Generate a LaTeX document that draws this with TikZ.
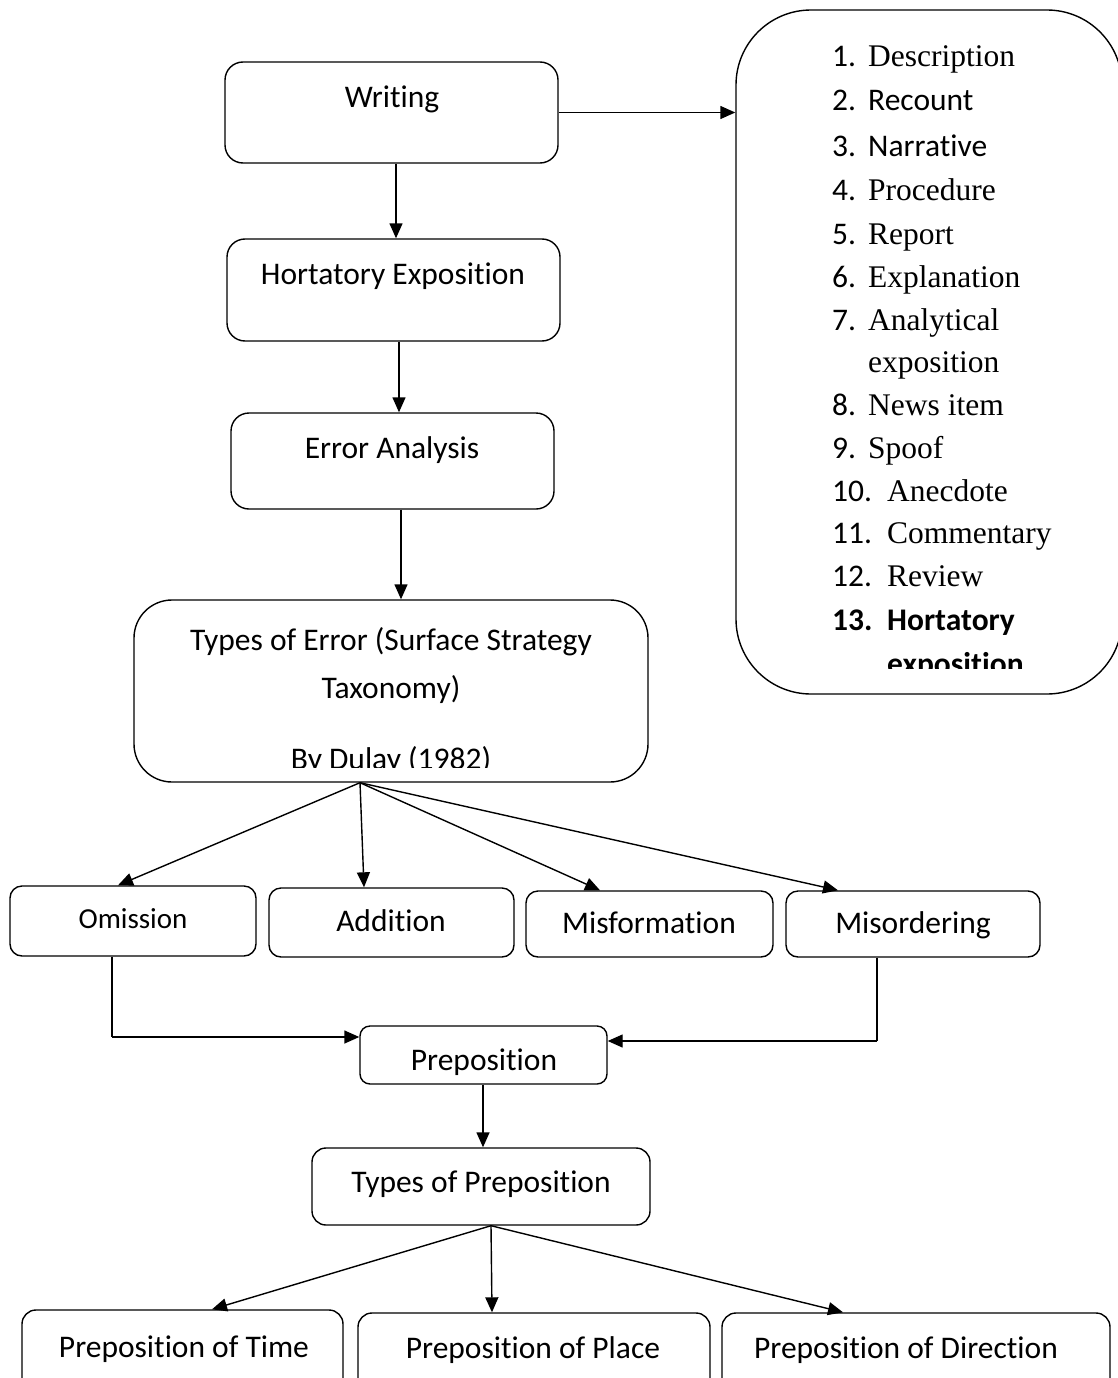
\documentclass[tikz,border=0pt]{standalone}
\usepackage{fontspec}
\setmainfont{Carlito}[Ligatures={NoCommon}]
\newfontfamily\tnr{Liberation Serif}
\usetikzlibrary{arrows.meta}
\begin{document}
\begin{tikzpicture}[x=1pt,y=-1pt,
  box/.style={draw, line width=1.4pt, rounded corners=14pt, inner sep=0pt},
  txt/.style={anchor=base, inner sep=0pt, font=\fontsize{31.5}{37}\selectfont},
  itm/.style={anchor=base west, inner sep=0pt, font=\fontsize{31.5}{37}\selectfont},
  arr/.style={line width=1.4pt, -{Triangle[length=15pt,width=13pt]}},
  ln/.style={line width=1.4pt}]
\useasboundingbox (0,0) rectangle (1117,1378);
% boxes
\node[box, rounded corners=18pt, minimum width=333pt, minimum height=101pt] (writing) at (391.5,112.5) {};
\node[box, rounded corners=18pt, minimum width=333pt, minimum height=102pt] (hort) at (393.5,290) {};
\node[box, rounded corners=18pt, minimum width=323pt, minimum height=96pt] (erran) at (392.5,461) {};
\node[box, rounded corners=38pt, minimum width=514pt, minimum height=182pt] (types) at (391,691) {};
\node[box, rounded corners=75pt, minimum width=386pt, minimum height=684pt] (list) at (929,352) {};
\node[box, rounded corners=12pt, minimum width=246pt, minimum height=70pt] (omis) at (133,921) {};
\node[box, rounded corners=12pt, minimum width=245pt, minimum height=69pt] (addi) at (391.5,922.5) {};
\node[box, rounded corners=12pt, minimum width=247pt, minimum height=66pt] (misf) at (649.5,924) {};
\node[box, rounded corners=12pt, minimum width=254pt, minimum height=66pt] (miso) at (913,924) {};
\node[box, rounded corners=10pt, minimum width=247pt, minimum height=58pt] (prep) at (483.5,1055) {};
\node[box, rounded corners=14pt, minimum width=338pt, minimum height=77pt] (tprep) at (481,1186.5) {};
\node[box, rounded corners=14pt, minimum width=321pt, minimum height=90pt] (ptime) at (182.5,1355) {};
\node[box, rounded corners=14pt, minimum width=352pt, minimum height=88pt] (pplace) at (534,1357) {};
\node[box, rounded corners=14pt, minimum width=388pt, minimum height=88pt] (pdir) at (916,1357) {};
% texts
\node[txt] (twriting) at (392,108) {Writing};
\node[txt] (thort) at (393,284) {Hortatory Exposition};
\node[txt] (terran) at (392,458) {Error Analysis};
\node[txt] (ttypes1) at (391,650) {Types of Error (Surface Strategy};
\node[txt] (ttypes2) at (391,698) {Taxonomy)};
\begin{scope}
\clip (134,600) rectangle (648,767);
\node[txt] (ttypes3) at (391,769) {By Dulay (1982)};
\end{scope}
\node[txt, font=\fontsize{29}{35}\selectfont] (tomis) at (133,928) {Omission};
\node[txt] (taddi) at (391,931) {Addition};
\node[txt] (tmisf) at (649,933) {Misformation};
\node[txt] (tmiso) at (913,933) {Misordering};
\node[txt] (tprept) at (484,1070) {Preposition};
\node[txt] (ttprep) at (481,1192) {Types of Preposition};
\node[txt] (tptime) at (184,1357) {Preposition of Time};
\node[txt] (tpplace) at (533,1358) {Preposition of Place};
\node[txt] (tpdir) at (906,1358) {Preposition of Direction};
% list
\node[itm] (n1) at (832,67) {1.}; \node[itm] (i1) at (868,67) {\tnr Description};
\node[itm] (n2) at (832,111) {2.}; \node[itm] (i2) at (868,111) {Recount};
\node[itm] (n3) at (832,156) {3.}; \node[itm] (i3) at (868,156) {Narrative};
\node[itm] (n4) at (832,200) {4.}; \node[itm] (i4) at (868,200) {\tnr Procedure};
\node[itm] (n5) at (832,244) {5.}; \node[itm] (i5) at (868,244) {\tnr Report};
\node[itm] (n6) at (832,287) {6.}; \node[itm] (i6) at (868,287) {\tnr Explanation};
\node[itm] (n7) at (832,330) {7.}; \node[itm] (i7) at (868,330) {\tnr Analytical};
\node[itm] (i7b) at (868,372) {\tnr exposition};
\node[itm] (n8) at (832,415) {8.}; \node[itm] (i8) at (868,415) {\tnr News item};
\node[itm] (n9) at (832,458) {9.}; \node[itm] (i9) at (868,458) {\tnr Spoof};
\node[itm] (n10) at (832,501) {10.}; \node[itm] (i10) at (887,501) {\tnr Anecdote};
\node[itm] (n11) at (832,543) {11.}; \node[itm] (i11) at (887,543) {\tnr Commentary};
\node[itm] (n12) at (832,586) {12.}; \node[itm] (i12) at (887,586) {\tnr Review};
\node[itm] (n13) at (832,630) {\bfseries 13.}; \node[itm] (i13) at (887,630) {\bfseries Hortatory};
\begin{scope}
\clip (736,640) rectangle (1117,668);
\node[itm] (i13b) at (887,674) {\bfseries exposition};
\end{scope}
% connectors
\draw[arr] (writing.east) -- (list.west |- writing.east);
\draw[arr] (writing.south -| 396,0) -- (hort.north -| 396,0);
\draw[arr] (hort.south -| 399,0) -- (erran.north -| 399,0);
\draw[arr] (erran.south -| 401,0) -- (types.north -| 401,0);
\coordinate (tb) at (types.south -| 360,0);
\draw[arr] (tb) -- (omis.north -| 118,0);
\draw[arr] (tb) -- (addi.north -| 364,0);
\draw[arr] (tb) -- (misf.north -| 600,0);
\draw[arr] (tb) -- (miso.north -| 838,0);
\draw[ln] (omis.south -| 112,0) -- (112,1037);
\draw[arr] (112,1037) -- (prep.west |- 0,1037);
\draw[ln] (miso.south -| 877,0) -- (877,1041);
\draw[arr] (877,1041) -- (prep.east |- 0,1041);
\draw[arr] (prep.south -| 483,0) -- (tprep.north -| 483,0);
\coordinate (pb) at (tprep.south -| 491,0);
\draw[arr] (pb) -- (ptime.north -| 212,0);
\draw[arr] (pb) -- (pplace.north -| 492,0);
\draw[arr] (pb) -- (pdir.north -| 843,0);
\end{tikzpicture}
\end{document}
